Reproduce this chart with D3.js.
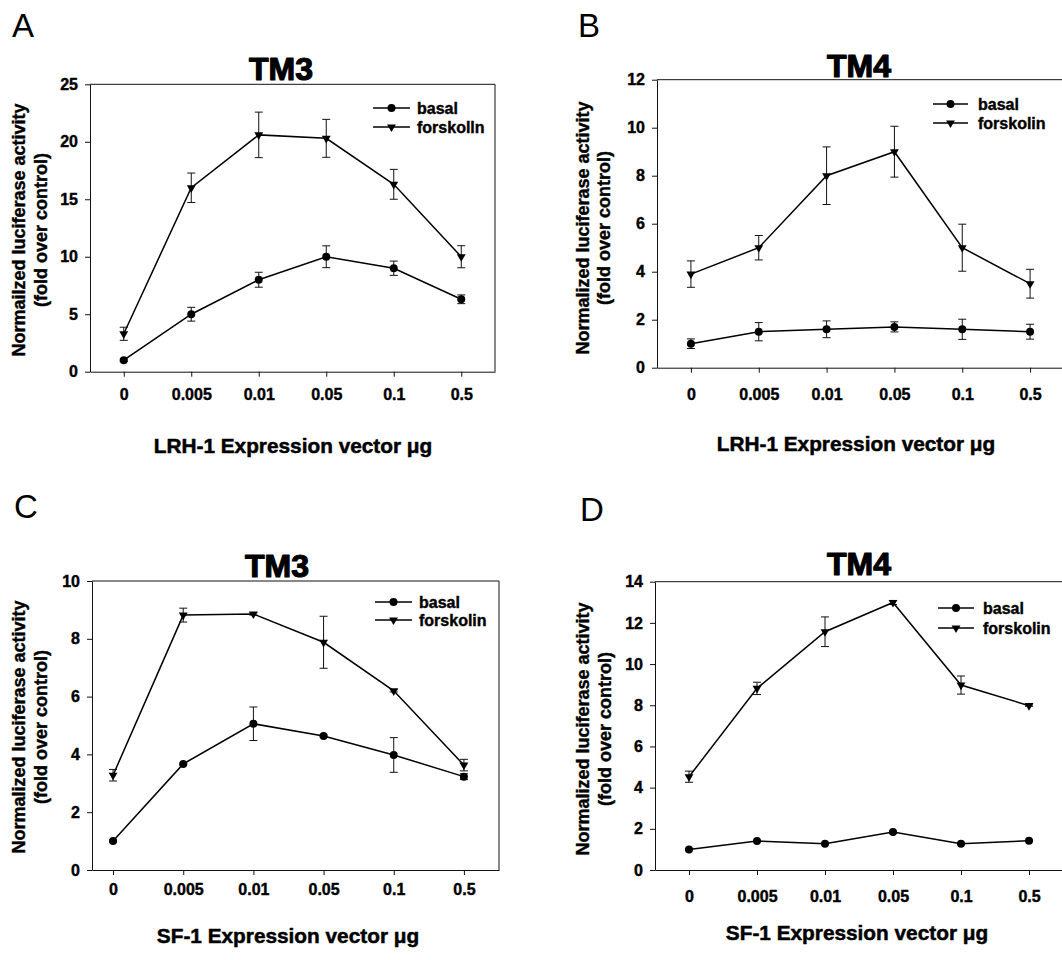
<!DOCTYPE html>
<html>
<head>
<meta charset="utf-8">
<script src="https://cdn.jsdelivr.net/npm/d3@7"></script>
<style>
  body { margin: 0; background: #fff; }
  svg { display: block; font-family: "Liberation Sans", Arial, sans-serif; }
</style>
</head>
<body>
<div id="chart"></div>
<script>
// x categories (LRH-1 / SF-1 expression vector, ug)
var doses = ["0", "0.005", "0.01", "0.05", "0.1", "0.5"];

// A: TM3, LRH-1
var aBasal = [1.0, 5.0, 8.0, 10.0, 9.0, 6.3];
var aBasalErr = [0.1, 0.6, 0.65, 0.95, 0.62, 0.38];
var aForsk = [3.3, 16.0, 20.6, 20.3, 16.3, 10.0];
var aForskErr = [0.57, 1.28, 1.98, 1.65, 1.3, 0.96];

// B: TM4, LRH-1
var bBasal = [1.0, 1.5, 1.6, 1.7, 1.6, 1.5];
var bBasalErr = [0.2, 0.38, 0.35, 0.21, 0.42, 0.31];
var bForsk = [3.9, 5.0, 8.0, 9.0, 5.0, 3.5];
var bForskErr = [0.55, 0.51, 1.2, 1.06, 0.98, 0.6];

// C: TM3, SF-1
var cBasal = [1.0, 3.67, 5.06, 4.64, 3.98, 3.23];
var cBasalErr = [0.03, 0.03, 0.58, 0.03, 0.6, 0.1];
var cForsk = [3.28, 8.82, 8.86, 7.88, 6.2, 3.63];
var cForskErr = [0.2, 0.24, 0.04, 0.9, 0.04, 0.2];

// D: TM4, SF-1
var dBasal = [1.0, 1.41, 1.27, 1.84, 1.27, 1.42];
var dBasalErr = [0.03, 0.03, 0.03, 0.05, 0.03, 0.03];
var dForsk = [4.53, 8.82, 11.57, 12.99, 8.98, 7.98];
var dForskErr = [0.27, 0.3, 0.72, 0.1, 0.44, 0.03];

// y axis maxima / tick steps
var yMaxes = [25, 12, 10, 14];
var ySteps = [5, 2, 2, 2];

var panels = [
  { letter: "A", lx: 12, ly: 37, title: "TM3", tx: 281, ty: 80,
    left: 90, right: 495, top: 84.3, bottom: 371.7, xLo: -0.5, xLab: 28,
    xTitle: "LRH-1 Expression vector \u03bcg", xtX: 293, xtY: 453,
    yTitle: "Normailzed luciferase activity", yl1: 24.5, yl2: 46.5, ylY: 230,
    leg: { x1: 373, x2: 410, t: 417, y1: 108, y2: 127 }, forskName: "forskolln",
    basal: aBasal, basalErr: aBasalErr, forsk: aForsk, forskErr: aForskErr },
  { letter: "B", lx: 578, ly: 37, title: "TM4", tx: 859, ty: 77,
    left: 657, right: 1064, top: 79.7, bottom: 367.7, xLo: -0.5, xLab: 32,
    xTitle: "LRH-1 Expression vector \u03bcg", xtX: 856, xtY: 451,
    yTitle: "Normalized luciferase activity", yl1: 589, yl2: 610, ylY: 228,
    leg: { x1: 933, x2: 968, t: 978, y1: 104, y2: 123 }, forskName: "forskolin",
    basal: bBasal, basalErr: bBasalErr, forsk: bForsk, forskErr: bForskErr },
  { letter: "C", lx: 14, ly: 518, title: "TM3", tx: 277, ty: 577,
    left: 92, right: 499, top: 581, bottom: 870, xLo: -0.3, xLab: 25,
    xTitle: "SF-1 Expression vector \u03bcg", xtX: 288, xtY: 943,
    yTitle: "Normalized luciferase activity", yl1: 24.5, yl2: 46.5, ylY: 727,
    leg: { x1: 375, x2: 412, t: 419, y1: 602, y2: 620 }, forskName: "forskolin",
    basal: cBasal, basalErr: cBasalErr, forsk: cForsk, forskErr: cForskErr },
  { letter: "D", lx: 580, ly: 521, title: "TM4", tx: 859, ty: 575,
    left: 655, right: 1063, top: 581.7, bottom: 870, xLo: -0.5, xLab: 32,
    xTitle: "SF-1 Expression vector \u03bcg", xtX: 857, xtY: 940,
    yTitle: "Normalized luciferase activity", yl1: 589, yl2: 611, ylY: 729,
    leg: { x1: 938, x2: 974, t: 983, y1: 608, y2: 628 }, forskName: "forskolin",
    basal: dBasal, basalErr: dBasalErr, forsk: dForsk, forskErr: dForskErr }
];

var svg = d3.select("#chart").append("svg")
  .attr("width", 1062)
  .attr("height", 960);

svg.append("rect").attr("width", 1062).attr("height", 960).attr("fill", "#fff");

var circle = d3.symbol().type(d3.symbolCircle).size(50);
var tri = d3.symbol().type(d3.symbolTriangle).size(34);

// heavier bold, the scan's type is thicker than plain bold
function heavy(sel, w) {
  return sel.style("font-weight", "bold")
    .attr("stroke", "#000").attr("stroke-width", w)
    .attr("stroke-linejoin", "round");
}

panels.forEach(function (p, k) {
  var g = svg.append("g");
  var tickFs = 16;

  var x = d3.scaleLinear().domain([p.xLo, 5.5]).range([p.left, p.right]);
  var y = d3.scaleLinear().domain([0, yMaxes[k]]).range([p.bottom, p.top]);

  // panel letter
  g.append("text")
    .attr("x", p.lx).attr("y", p.ly)
    .style("font-size", "33px")
    .text(p.letter);

  // title
  heavy(g.append("text")
    .attr("x", p.tx).attr("y", p.ty)
    .attr("text-anchor", "middle")
    .style("font-size", "32px")
    .text(p.title), 1.2);

  // box top / right
  g.append("line")
    .attr("x1", p.left).attr("x2", p.right)
    .attr("y1", p.top).attr("y2", p.top)
    .attr("stroke", "#111");
  g.append("line")
    .attr("x1", p.right).attr("x2", p.right)
    .attr("y1", p.top).attr("y2", p.bottom)
    .attr("stroke", "#111");

  // y axis
  var ya = g.append("g")
    .attr("transform", "translate(" + p.left + ",0)")
    .call(d3.axisLeft(y)
      .tickValues(d3.range(0, yMaxes[k] + 0.1, ySteps[k]))
      .tickSize(5).tickSizeOuter(0).tickPadding(7));

  // x axis
  var xa = g.append("g")
    .attr("transform", "translate(0," + p.bottom + ")")
    .call(d3.axisBottom(x)
      .tickValues(d3.range(doses.length))
      .tickFormat(function (i) { return doses[i]; })
      .tickSize(5).tickSizeOuter(0)
      .tickPadding(p.xLab - 5 - 0.71 * tickFs));

  [ya, xa].forEach(function (a) {
    a.select(".domain").attr("stroke", "#111");
    a.selectAll(".tick line").attr("stroke", "#111");
    heavy(a.selectAll(".tick text")
      .style("font-family", "'Liberation Sans', Arial, sans-serif")
      .style("font-size", tickFs + "px")
      .attr("fill", "#000"), 0.4);
  });

  // axis titles
  heavy(g.append("text")
    .attr("x", p.xtX).attr("y", p.xtY)
    .attr("text-anchor", "middle")
    .style("font-size", "20.8px")
    .text(p.xTitle), 0.5);

  heavy(g.append("text")
    .attr("transform", "translate(" + p.yl1 + "," + p.ylY + ") rotate(-90)")
    .attr("text-anchor", "middle")
    .style("font-size", "18px")
    .text(p.yTitle), 0.4);
  heavy(g.append("text")
    .attr("transform", "translate(" + p.yl2 + "," + p.ylY + ") rotate(-90)")
    .attr("text-anchor", "middle")
    .style("font-size", "18px")
    .text("(fold over control)"), 0.4);

  var series = [
    { vals: p.basal, errs: p.basalErr, sym: circle, rot: 0 },
    { vals: p.forsk, errs: p.forskErr, sym: tri, rot: 180 }
  ];

  series.forEach(function (s) {
    var pts = s.vals.map(function (v, i) { return { i: i, v: v, e: s.errs[i] }; });

    // error bars
    var eb = g.append("g").attr("stroke", "#111").attr("stroke-width", 1);
    pts.forEach(function (d) {
      var cx = x(d.i), y1 = y(d.v + d.e), y2 = y(d.v - d.e);
      eb.append("line").attr("x1", cx).attr("x2", cx).attr("y1", y1).attr("y2", y2);
      eb.append("line").attr("x1", cx - 4).attr("x2", cx + 4).attr("y1", y1).attr("y2", y1);
      eb.append("line").attr("x1", cx - 4).attr("x2", cx + 4).attr("y1", y2).attr("y2", y2);
    });

    g.append("path")
      .datum(pts)
      .attr("fill", "none")
      .attr("stroke", "#000")
      .attr("stroke-width", 1.5)
      .attr("d", d3.line().x(function (d) { return x(d.i); }).y(function (d) { return y(d.v); }));

    g.selectAll(null)
      .data(pts)
      .enter()
      .append("path")
      .attr("d", s.sym)
      .attr("fill", "#000")
      .attr("transform", function (d) {
        return "translate(" + x(d.i) + "," + y(d.v) + ") rotate(" + s.rot + ")";
      });
  });

  // legend
  var L = p.leg;
  [{ yy: L.y1, sym: circle, rot: 0, name: "basal" },
   { yy: L.y2, sym: tri, rot: 180, name: p.forskName }].forEach(function (r) {
    g.append("line")
      .attr("x1", L.x1).attr("x2", L.x2)
      .attr("y1", r.yy).attr("y2", r.yy)
      .attr("stroke", "#000").attr("stroke-width", 1.5);
    g.append("path")
      .attr("d", r.sym)
      .attr("fill", "#000")
      .attr("transform", "translate(" + ((L.x1 + L.x2) / 2) + "," + r.yy + ") rotate(" + r.rot + ")");
    heavy(g.append("text")
      .attr("x", L.t).attr("y", r.yy)
      .attr("dy", "0.35em")
      .style("font-size", "16px")
      .text(r.name), 0.4);
  });
});
</script>
</body>
</html>
